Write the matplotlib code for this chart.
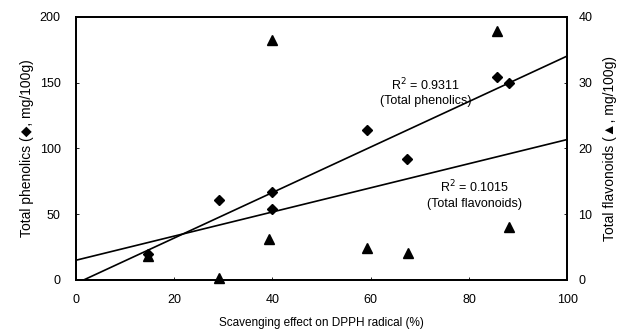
import numpy as np
import matplotlib
matplotlib.use("Agg")
from matplotlib import pyplot as plt

plt.rcParams['font.family'] = ['Liberation Sans', 'DejaVu Sans']

# scavenging effect (%) vs total phenolics (left axis)
phen_x = [14.7, 29.2, 40.0, 40.0, 59.2, 67.3, 85.7, 88.2]
phen_y = [20, 61, 67, 54, 114, 92, 154, 150]
# scavenging effect (%) vs total flavonoids (right axis)
flav_x = [14.7, 29.2, 39.2, 40.0, 59.2, 67.5, 85.7, 88.2]
flav_y = [3.7, 0.3, 6.2, 36.5, 4.9, 4.1, 37.9, 8.1]

fig = plt.figure(figsize=(6.22, 3.32), dpi=100)
ax = fig.add_axes([0.122, 0.157, 0.79, 0.792])
ax2 = ax.twinx()

ax.plot(phen_x, phen_y, 'D', color='black', markersize=5.5, clip_on=False, zorder=3)
ax2.plot(flav_x, flav_y, '^', color='black', markersize=7.5, clip_on=False, zorder=3)

xx = np.array([0, 100])
p1 = np.polyfit(phen_x, phen_y, 1)
p2 = np.polyfit(flav_x, flav_y, 1)
ax.plot(xx, np.polyval(p1, xx), color='black', lw=1.2)
ax2.plot(xx, np.polyval(p2, xx), color='black', lw=1.2)

ax.set_xlim(0, 100)
ax.set_ylim(0, 200)
ax2.set_ylim(0, 40)
ax.set_xticks(range(0, 101, 20))
ax.set_yticks(range(0, 201, 50))
ax2.set_yticks(range(0, 41, 10))

ax.text(71.2, 148, 'R$^2$ = 0.9311', ha='center', va='center', fontsize=9)
ax.text(71.2, 136, '(Total phenolics)', ha='center', va='center', fontsize=9)
ax.text(81.2, 71, 'R$^2$ = 0.1015', ha='center', va='center', fontsize=9)
ax.text(81.2, 58, '(Total flavonoids)', ha='center', va='center', fontsize=9)

ax.set_xlabel('Scavenging effect on DPPH radical (%)', fontsize=8.5, labelpad=8)
ax.set_ylabel('Total phenolics (\u25c6, mg/100g)', fontsize=10, labelpad=4)
ax2.set_ylabel('Total flavonoids (\u25b2, mg/100g)', fontsize=10, labelpad=8)

for a in (ax, ax2):
    a.tick_params(direction='in', length=2, labelsize=9, width=0.6)
    for s in a.spines.values():
        s.set_linewidth(1.3)
ax.tick_params(axis='y', pad=11)
ax.tick_params(axis='x', pad=10)
ax2.tick_params(axis='y', pad=8)

fig.savefig('out.png', dpi=100)
